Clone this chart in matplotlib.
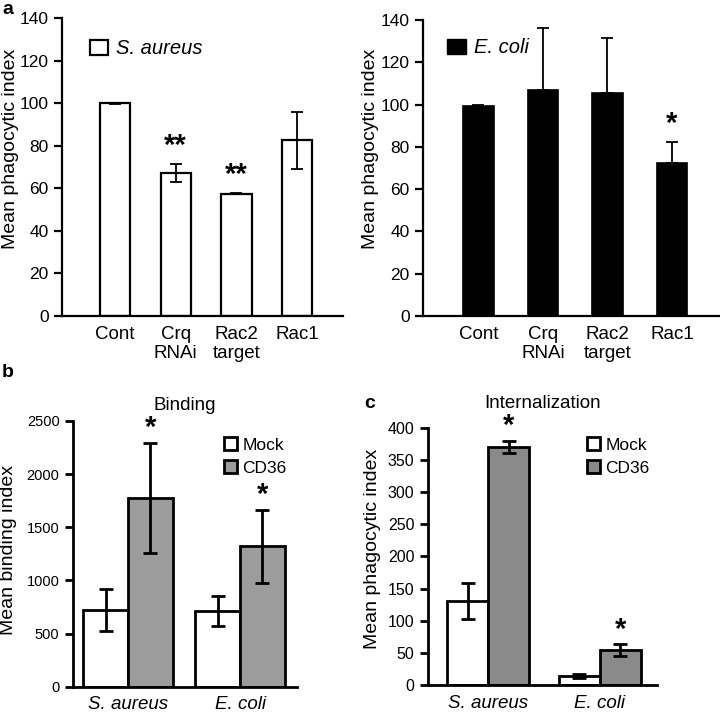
import matplotlib
matplotlib.use("Agg")
import matplotlib.pyplot as plt
from matplotlib.patches import Patch
import numpy as np

plt.rcParams['font.family'] = ['Liberation Sans', 'DejaVu Sans']

# ---- data ----
a_categories = ["Cont", "Crq\nRNAi", "Rac2\ntarget", "Rac1"]
a_saureus = [100, 67, 57.5, 82.5]
a_saureus_err = [0.3, 4.2, 0.3, 13.3]
a_saureus_sig = ["", "**", "**", ""]
a_ecoli = [99.5, 107, 105.5, 72.5]
a_ecoli_err = [0.3, 29, 26, 10]
a_ecoli_sig = ["", "", "", "*"]

bc_groups = ["S. aureus", "E. coli"]
b_mock = [720, 712]
b_mock_err = [195, 137]
b_cd36 = [1775, 1320]
b_cd36_err = [520, 345]
b_sig = ["*", "*"]

c_mock = [130, 14]
c_mock_err = [28, 3]
c_cd36 = [370, 54]
c_cd36_err = [10, 9.5]
c_sig = ["*", "*"]

W, H = 720, 712
fig = plt.figure(figsize=(7.2, 7.12), dpi=100)


def ax_px(x0, x1, ytop, ybot):
    return fig.add_axes([x0 / W, 1 - ybot / H, (x1 - x0) / W, (ybot - ytop) / H])


def style(ax, lw=1.6):
    for s in ("top", "right"):
        ax.spines[s].set_visible(False)
    for s in ("left", "bottom"):
        ax.spines[s].set_linewidth(lw)
    ax.tick_params(axis="y", direction="out", length=6, width=lw)
    ax.tick_params(axis="x", length=0)


# ---- panel a left ----
ax1 = ax_px(62, 343, 18, 316)
x = np.arange(len(a_categories))
ax1.bar(x, a_saureus, width=0.5, color="white", edgecolor="black", linewidth=1.6, zorder=2)
ax1.errorbar(x, a_saureus, yerr=a_saureus_err, fmt="none", ecolor="black",
             elinewidth=1.3, capsize=4, capthick=1.3, zorder=3)
for xi, v, e, s in zip(x, a_saureus, a_saureus_err, a_saureus_sig):
    if s:
        ax1.text(xi, v + e + 2, s, ha="center", va="bottom", fontsize=21, fontweight="bold")
ax1.set_xlim(-0.874, 3.758)
ax1.set_ylim(0, 140)
ax1.set_yticks(np.arange(0, 141, 20))
ax1.set_xticks(x)
ax1.set_xticklabels(a_categories, fontsize=13.5, linespacing=1.15, va="top")
ax1.tick_params(axis="x", pad=7)
ax1.tick_params(axis="y", labelsize=12.5)
ax1.set_ylabel("Mean phagocytic index", fontsize=14, va="center")
ax1.yaxis.set_label_coords(-0.185, 0.56)
style(ax1)
ax1.legend(handles=[Patch(facecolor="white", edgecolor="black", linewidth=1.6)],
           labels=["S. aureus"], prop={"size": 14.5, "style": "italic"},
           loc="upper left", bbox_to_anchor=(0.07, 0.955), frameon=False,
           handlelength=0.9, handleheight=0.8, handletextpad=0.4, borderaxespad=0)
fig.text(2 / W, 1 - 0.5 / H, "a", fontsize=14, fontweight="bold", va="top", ha="left")

# ---- panel a right ----
ax2 = ax_px(423, 720, 20, 316)
ax2.bar(x, a_ecoli, width=0.48, color="black", edgecolor="black", linewidth=1.2, zorder=2)
ax2.errorbar(x, a_ecoli, yerr=[np.zeros(len(a_ecoli)), a_ecoli_err], fmt="none", ecolor="black",
             elinewidth=1.3, capsize=4, capthick=1.3, zorder=3)
for xi, v, e, s in zip(x, a_ecoli, a_ecoli_err, a_ecoli_sig):
    if s:
        ax2.text(xi, v + e + 1.5, s, ha="center", va="bottom", fontsize=21, fontweight="bold")
ax2.set_xlim(-0.86, 3.744)
ax2.set_ylim(0, 140)
ax2.set_yticks(np.arange(0, 141, 20))
ax2.set_xticks(x)
ax2.set_xticklabels(a_categories, fontsize=13.5, linespacing=1.15, va="top")
ax2.tick_params(axis="x", pad=7)
ax2.tick_params(axis="y", labelsize=12.5)
ax2.set_ylabel("Mean phagocytic index", fontsize=14, va="center")
ax2.yaxis.set_label_coords(-0.177, 0.564)
style(ax2)
ax2.legend(handles=[Patch(facecolor="black", edgecolor="black")],
           labels=["E. coli"], prop={"size": 14.5, "style": "italic"},
           loc="upper left", bbox_to_anchor=(0.055, 0.965), frameon=False,
           handlelength=0.9, handleheight=0.8, handletextpad=0.4, borderaxespad=0)

# ---- panel b ----
ax3 = ax_px(72.7, 297, 421, 686.7)
g = np.arange(len(bc_groups))
bw = 0.4
ax3.bar(g - bw / 2, b_mock, width=bw, color="white", edgecolor="black", linewidth=2, zorder=2, label="Mock")
ax3.bar(g + bw / 2, b_cd36, width=bw, color="#9c9c9c", edgecolor="black", linewidth=2, zorder=2, label="CD36")
ax3.errorbar(g - bw / 2, b_mock, yerr=b_mock_err, fmt="none", ecolor="black",
             elinewidth=2, capsize=5, capthick=2, zorder=3)
ax3.errorbar(g + bw / 2, b_cd36, yerr=b_cd36_err, fmt="none", ecolor="black",
             elinewidth=2, capsize=5, capthick=2, zorder=3)
for gi, v, e, s in zip(g, b_cd36, b_cd36_err, b_sig):
    ax3.text(gi + bw / 2, v + e + 5, s, ha="center", va="bottom", fontsize=21, fontweight="bold")
ax3.set_xlim(-0.494, 0.509 + 1)
ax3.set_ylim(0, 2500)
ax3.set_yticks(np.arange(0, 2501, 500))
ax3.set_xticks(g)
ax3.set_xticklabels(bc_groups, fontsize=13.5, style="italic")
ax3.tick_params(axis="x", pad=7)
ax3.tick_params(axis="y", labelsize=10.5)
ax3.set_ylabel("Mean binding index", fontsize=14, va="center")
ax3.yaxis.set_label_coords(-0.288, 0.516)
ax3.set_title("Binding", fontsize=13.5, pad=8)
style(ax3, lw=2)
ax3.legend(loc="upper left", bbox_to_anchor=(0.645, 0.965), frameon=False, prop={"size": 12.5},
           handlelength=0.75, handleheight=0.75, handletextpad=0.3, labelspacing=0.45, borderaxespad=0)
fig.text(2 / W, 1 - 372 / H, "b", fontsize=14, fontweight="bold", va="center", ha="left")

# ---- panel c ----
ax4 = ax_px(427.7, 656.7, 427.7, 685)
bw = 0.367
ax4.bar(g - bw / 2, c_mock, width=bw, color="white", edgecolor="black", linewidth=2, zorder=2, label="Mock")
ax4.bar(g + bw / 2, c_cd36, width=bw, color="#8a8a8a", edgecolor="black", linewidth=2, zorder=2, label="CD36")
ax4.errorbar(g - bw / 2, c_mock, yerr=c_mock_err, fmt="none", ecolor="black",
             elinewidth=2, capsize=5, capthick=2, zorder=3)
ax4.errorbar(g + bw / 2, c_cd36, yerr=c_cd36_err, fmt="none", ecolor="black",
             elinewidth=2, capsize=5, capthick=2, zorder=3)
for gi, v, e, s in zip(g, c_cd36, c_cd36_err, c_sig):
    ax4.text(gi + bw / 2, v + e + 1, s, ha="center", va="bottom", fontsize=21, fontweight="bold")
ax4.set_xlim(-0.543, 0.508 + 1)
ax4.set_ylim(0, 400)
ax4.set_yticks(np.arange(0, 401, 50))
ax4.set_xticks(g)
ax4.set_xticklabels(bc_groups, fontsize=13.5, style="italic")
ax4.tick_params(axis="x", pad=7)
ax4.tick_params(axis="y", labelsize=11.5)
ax4.set_ylabel("Mean phagocytic index", fontsize=14, va="center")
ax4.yaxis.set_label_coords(-0.241, 0.53)
ax4.set_title("Internalization", fontsize=13.5, pad=14)
style(ax4, lw=2)
ax4.legend(loc="upper left", bbox_to_anchor=(0.665, 0.99), frameon=False, prop={"size": 12.5},
           handlelength=0.75, handleheight=0.75, handletextpad=0.3, labelspacing=0.45, borderaxespad=0)
fig.text(364 / W, 1 - 403 / H, "c", fontsize=14, fontweight="bold", va="center", ha="left")

fig.savefig("out.png", dpi=100)
